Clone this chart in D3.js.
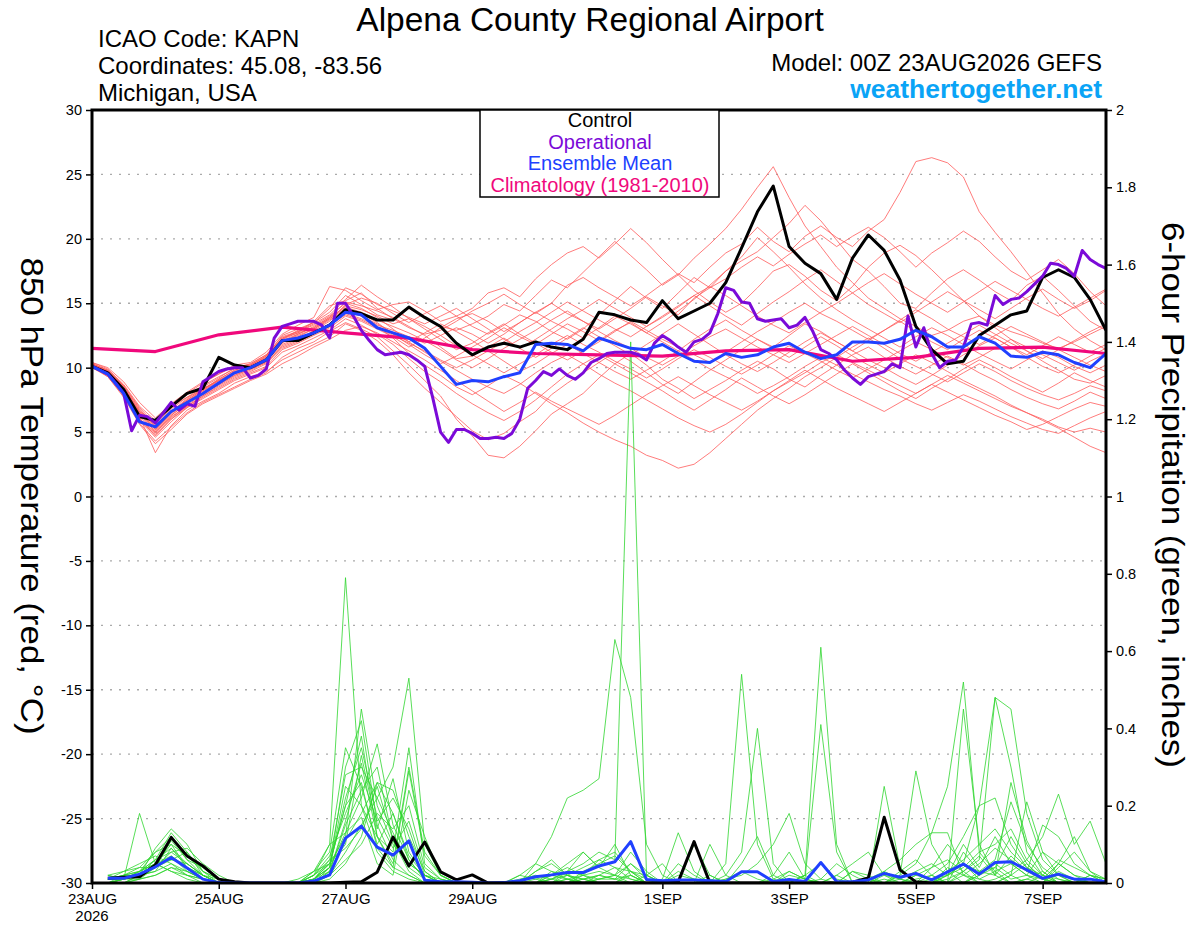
<!DOCTYPE html>
<html>
<head>
<meta charset="utf-8">
<script src="https://cdn.jsdelivr.net/npm/d3@7"></script>
<style>
body { margin:0; background:#fff; }
svg { font-family: "Liberation Sans", Arial, Helvetica, sans-serif; }
</style>
</head>
<body>
<svg width="1200" height="927"></svg>
<script>
// axis ticks and labels
var tempTicks = [30, 25, 20, 15, 10, 5, 0, -5, -10, -15, -20, -25, -30]
var precipTicks = [0, 0.2, 0.4, 0.6, 0.8, 1, 1.2, 1.4, 1.6, 1.8, 2]
var dateTickDays = [0, 2, 4, 6, 9, 11, 13, 15]
var dateTickLabels = ["23AUG", "25AUG", "27AUG", "29AUG", "1SEP", "3SEP", "5SEP", "7SEP"]

// 850 hPa temperature, 6-hourly from 00Z 23AUG (deg C)
var controlTemp = [10.1, 9.6, 8.3, 6.2, 5.9, 7.0, 8.0, 8.4, 10.8, 10.2,
    10.0, 10.6, 12.1, 12.1, 12.7, 13.3, 14.5, 14.2, 13.7, 13.7,
    14.7, 13.9, 13.2, 11.9, 11.0, 11.6, 11.9, 11.6, 12.0, 11.6,
    11.4, 12.2, 14.3, 14.1, 13.7, 13.5, 15.2, 13.8, 14.4, 15.0,
    16.6, 19.3, 22.1, 24.1, 19.4, 18.1, 17.3, 15.3, 18.5, 20.3,
    19.1, 16.8, 13.2, 11.4, 10.3, 10.5, 12.5, 13.3, 14.1, 14.4,
    17.0, 17.6, 17.0, 15.3, 12.9]

var meanTemp = [10.1, 9.5, 8.0, 5.8, 5.4, 6.6, 7.3, 8.0, 8.8, 9.6,
    10.0, 10.6, 12.1, 12.3, 12.7, 13.3, 14.3, 14.1, 13.1, 12.7,
    12.3, 11.5, 10.1, 8.7, 9.0, 8.9, 9.3, 9.6, 11.8, 11.9,
    11.8, 11.3, 12.3, 11.9, 11.5, 11.4, 11.8, 11.1, 10.5, 10.4,
    11.1, 10.8, 11.0, 11.6, 11.9, 11.2, 10.7, 11.0, 12.0, 12.0,
    11.9, 12.2, 12.9, 12.4, 11.6, 11.6, 12.4, 11.9, 10.9, 10.8,
    11.2, 11.0, 10.4, 10.0, 11.1]

// operational run is 3-hourly
var operationalTemp = [10.1, 9.8, 9.5, 8.8, 8.0, 5.1, 6.3, 6.2, 5.7, 6.5,
    7.3, 6.7, 7.2, 7.0, 8.9, 9.3, 9.7, 9.9, 10.0, 10.0,
    9.2, 9.4, 9.9, 12.3, 13.2, 13.4, 13.6, 13.6, 13.6, 13.3,
    12.3, 15.0, 15.0, 14.0, 12.9, 12.1, 11.4, 11.0, 11.1, 11.2,
    11.0, 10.6, 10.1, 7.7, 5.0, 4.2, 5.2, 5.2, 4.9, 4.5,
    4.5, 4.6, 4.5, 4.9, 6.0, 8.4, 9.0, 9.7, 9.4, 9.9,
    9.4, 9.1, 9.6, 10.4, 10.7, 11.1, 11.2, 11.2, 11.2, 11.0,
    10.6, 11.9, 12.5, 12.1, 11.6, 11.2, 12.0, 12.2, 12.7, 14.2,
    16.2, 16.0, 15.1, 15.0, 13.8, 13.6, 13.7, 13.8, 13.1, 13.3,
    13.9, 12.8, 11.4, 11.1, 10.6, 9.8, 9.2, 8.7, 9.3, 9.5,
    9.7, 10.3, 10.0, 14.0, 11.6, 13.1, 11.1, 10.0, 10.5, 10.6,
    11.6, 13.4, 13.5, 13.3, 15.6, 14.9, 15.3, 15.4, 15.9, 16.5,
    17.1, 18.1, 18.0, 17.7, 17.1, 19.1, 18.4, 18.0, 17.7]

// daily climatology 1981-2010
var climoTemp = [11.5, 11.25, 12.55, 13.15, 12.7, 12.3, 11.4, 11.1, 11.0,
    10.9, 11.3, 11.4, 10.5, 10.8, 11.5, 11.6, 11.1]

var memberTemp = [
 [10.3,9.8,8.6,6.9, 5.6,6.9,7.9,8.6, 9.3,9.9,10.3,11.0, 12.2,12.9,13.5,14.3, 15.6,14.9,14.1,13.7, 14.6,13.9,13.2,12.9, 13.4,14.0,14.9,14.4, 15.6,16.8,16.2,17.4, 18.6,19.8,18.7,17.6, 16.4,17.2,18.5,19.6, 20.8,22.3,24.0,25.6, 23.2,21.0,19.4,17.8, 16.6,15.4,14.6,13.8, 13.2,12.5,12.9,13.6, 14.0,13.3,12.8,12.4, 11.9,11.5,12.0,12.6, 13.2],
 [10.2,9.7,8.3,6.6, 5.4,6.6,7.6,8.4, 9.0,9.6,10.1,10.8, 12.3,12.7,13.6,14.8, 15.2,15.8,14.6,13.8, 13.1,12.6,12.9,13.6, 14.4,15.0,15.7,14.9, 14.2,15.0,16.4,17.0, 16.2,15.5,14.8,15.6, 16.5,17.3,16.6,17.8, 18.9,19.6,20.9,19.8, 19.0,20.2,21.0,20.1, 19.4,20.6,21.5,23.6, 26.0,26.3,25.9,24.8, 22.1,20.5,19.0,17.4, 15.8,14.2,13.0,12.1, 11.4],
 [10.4,10.0,8.9,7.3, 6.1,7.2,8.1,8.9, 9.5,10.2,10.4,11.2, 12.6,13.3,13.9,16.3, 16.0,15.2,14.5,14.9, 15.1,14.4,13.6,14.0, 13.2,12.6,13.3,14.1, 13.6,12.8,12.2,13.0, 14.1,15.2,16.3,15.4, 14.6,15.8,17.0,16.2, 17.5,18.3,19.0,20.1, 21.2,22.6,21.4,19.9, 18.4,17.5,16.3,15.0, 14.6,15.8,16.9,17.6, 16.8,15.9,15.2,16.4, 17.1,16.0,14.8,13.6, 12.9],
 [10.1,9.5,8.0,6.0, 4.9,6.2,7.0,7.8, 8.6,9.3,9.8,10.4, 11.6,12.1,12.9,13.6, 14.9,15.4,15.0,14.2, 13.5,14.2,14.8,14.0, 14.6,15.8,16.2,15.5, 16.9,18.0,18.9,19.4, 18.5,19.6,20.8,19.7, 18.4,17.2,16.0,15.1, 14.3,15.0,16.2,17.5, 18.0,17.1,16.0,15.2, 16.3,17.8,18.9,19.5, 18.7,17.6,16.4,15.2, 14.0,13.1,12.2,11.3, 10.5,9.8,9.1,8.8, 9.4],
 [10.0,9.4,7.9,5.9, 4.6,5.8,6.9,7.7, 8.4,9.1,9.6,10.1, 11.4,11.9,12.5,13.1, 14.0,13.6,13.0,12.4, 11.6,12.3,13.1,13.8, 14.2,13.6,12.8,13.5, 14.3,15.0,14.2,13.6, 13.0,13.8,14.6,15.5, 14.8,14.1,15.4,16.2, 16.9,17.8,18.6,17.9, 18.8,19.6,20.3,19.4, 20.2,20.9,20.1,19.0, 17.8,18.9,19.7,20.6, 19.8,18.6,17.5,16.8, 17.6,18.4,17.3,15.9, 14.8],
 [10.3,9.7,8.4,6.5, 5.3,6.5,7.4,8.2, 8.9,9.7,10.0,10.6, 12.0,12.5,13.0,13.8, 14.6,14.2,13.5,12.6, 11.8,11.0,10.3,10.9, 11.6,12.3,13.1,12.4, 11.8,12.6,13.4,12.8, 12.1,12.9,13.5,12.7, 12.0,11.3,12.2,13.0, 13.7,12.9,12.2,11.6, 12.5,13.4,12.8,12.0, 11.3,12.1,12.9,13.6, 12.8,12.0,11.4,12.2, 12.9,12.3,11.6,11.0, 11.7,12.4,11.8,11.2, 11.8],
 [10.2,9.5,8.1,6.2, 3.4,5.5,6.7,7.4, 8.0,8.8,9.3,9.7, 10.6,11.2,11.8,12.4, 13.4,12.9,12.1,11.0, 9.6,8.4,7.3,6.2, 5.1,4.4,4.9,5.8, 6.6,7.9,8.8,9.6, 10.4,11.2,10.5,9.6, 8.7,8.0,8.9,9.8, 10.6,11.4,12.2,11.5, 10.8,11.6,12.4,11.7, 10.9,10.2,9.6,10.3, 11.0,10.4,9.7,9.0, 8.4,7.8,7.1,6.5, 6.0,5.4,5.0,5.3, 5.0],
 [10.1,9.3,7.8,5.7, 4.3,5.4,6.5,7.3, 7.9,8.5,9.1,9.6, 10.8,11.5,12.0,12.8, 13.5,13.0,12.4,11.3, 10.2,9.0,7.8,6.0, 4.7,3.2,3.0,3.9, 5.1,6.4,7.2,8.0, 9.2,10.3,11.1,10.2, 9.1,8.4,7.6,8.3, 9.0,9.8,10.5,9.9, 9.1,8.5,9.4,10.2, 11.0,11.6,10.8,10.1, 9.5,10.2,10.9,10.3, 9.6,9.0,8.3,7.7, 7.2,6.8,7.4,8.1, 7.6],
 [10.2,9.6,8.2,6.4, 5.0,6.1,7.1,7.9, 8.7,9.4,9.9,10.4, 11.7,12.2,12.7,13.4, 14.2,13.8,13.2,12.3, 11.1,10.2,9.4,8.5, 7.9,8.6,9.4,8.8, 8.0,7.2,6.5,5.7, 5.0,4.4,3.9,3.2, 2.8,2.2,2.5,3.4, 4.5,5.6,6.7,7.6, 8.4,9.3,10.0,10.8, 11.6,12.3,11.5,10.7, 10.1,9.5,8.9,9.6, 10.3,9.7,9.0,8.4, 7.9,7.5,8.0,8.6, 8.2],
 [10.3,9.8,8.5,6.7, 5.5,6.8,7.7,8.5, 9.2,10.0,10.3,11.0, 12.4,12.8,13.3,14.0, 15.0,14.6,13.9,13.0, 12.0,11.2,10.5,9.8, 9.1,8.5,8.0,8.7, 9.6,10.4,11.0,10.3, 9.5,8.8,8.2,7.5, 6.8,6.1,5.5,5.0, 5.6,6.4,7.3,8.2, 8.9,9.6,10.4,11.0, 10.4,9.8,9.2,8.6, 8.0,8.7,9.4,8.8, 8.2,7.6,7.0,6.5, 5.9,5.3,4.6,3.9, 3.4],
 [10.1,9.4,7.9,6.0, 5.0,6.3,7.2,8.1, 8.8,9.5,10.0,10.5, 11.9,12.6,13.1,13.9, 15.1,14.8,14.4,13.9, 13.2,12.5,11.6,10.7, 10.9,11.6,12.3,11.5, 10.8,11.5,12.3,13.1, 12.4,11.7,11.0,11.8, 12.6,13.4,12.6,11.8, 11.0,10.3,9.7,10.4, 11.2,12.0,12.7,12.0, 11.3,10.6,10.0,9.3, 8.7,9.4,10.2,11.0, 11.7,12.3,11.6,10.8, 10.1,9.6,10.2,10.9, 11.5],
 [10.4,9.9,8.7,7.0, 5.9,7.1,8.0,8.8, 9.5,10.1,10.2,10.9, 12.5,13.0,13.5,14.6, 16.2,15.7,14.9,14.4, 13.9,13.4,14.0,14.6, 13.8,13.0,12.2,11.5, 12.2,13.0,13.8,14.5, 15.3,14.6,13.9,13.2, 13.9,14.7,15.6,14.8, 14.0,13.3,14.2,15.1, 15.9,16.8,17.6,16.7, 15.8,14.9,14.2,13.5, 14.3,15.1,15.9,15.2, 14.5,13.8,14.6,15.4, 16.1,15.3,14.6,15.2, 16.0],
 [10.2,9.6,8.1,6.1, 4.7,6.0,6.9,7.6, 8.3,9.0,9.5,10.0, 11.2,11.7,12.3,12.9, 13.8,13.3,12.6,11.8, 10.7,9.7,8.9,8.0, 7.2,6.5,5.9,6.6, 7.5,8.5,9.5,10.3, 11.0,10.3,9.6,8.9, 8.2,7.4,6.7,7.5, 8.3,9.2,8.5,7.8, 7.2,7.9,8.7,9.5, 10.3,9.6,8.9,8.2, 7.6,8.4,9.1,9.9, 10.6,10.0,9.3,8.7, 8.1,8.8,9.6,9.0, 8.5],
 [10.1,9.5,8.0,6.2, 5.1,6.3,7.3,8.0, 8.7,9.4,9.9,10.6, 12.0,12.4,13.0,13.7, 14.5,14.0,13.3,12.9, 12.4,11.9,12.5,13.1, 12.6,11.9,12.6,13.5, 14.3,13.6,13.0,12.3, 13.1,14.0,13.4,12.7, 13.5,14.4,15.3,16.4, 17.5,18.6,20.1,19.0, 17.8,16.5,15.4,14.5, 13.7,13.0,12.3,11.6, 12.4,13.1,12.5,11.8, 11.1,10.5,9.9,10.6, 11.3,10.8,10.1,9.6, 10.2],
 [10.3,9.7,8.5,6.6, 5.8,7.0,7.7,8.3, 9.1,9.8,10.2,10.8, 12.3,12.8,13.4,14.1, 15.3,16.4,15.5,14.7, 13.8,13.0,12.2,11.4, 11.9,12.7,13.4,12.6, 11.9,11.2,10.6,11.3, 12.0,12.8,13.6,12.9, 12.2,11.6,11.0,10.4, 11.2,12.0,12.8,13.5, 14.3,15.0,14.2,13.6, 12.9,12.2,12.9,13.7, 14.5,13.8,13.0,12.4, 11.8,12.5,13.2,12.6, 12.0,11.4,10.8,10.2, 9.7],
 [10.0,9.3,7.7,5.6, 4.1,5.2,6.4,7.2, 7.8,8.4,9.0,9.5, 10.3,10.9,11.6,12.2, 12.9,13.2,12.7,12.0, 11.3,10.6,9.8,9.0, 8.2,7.4,6.6,7.3, 8.1,7.4,6.8,6.2, 5.6,6.3,7.1,7.9, 8.6,9.3,8.6,7.9, 7.3,6.7,7.4,8.2, 9.0,9.8,9.1,8.4, 7.8,7.2,6.6,7.3, 8.0,8.7,8.1,7.5, 6.9,6.3,5.8,5.2, 5.6,6.2,6.8,7.3, 7.0],
 [10.2,9.7,8.3,6.5, 5.2,6.4,7.4,8.2, 9.0,9.7,10.1,10.7, 12.1,12.6,13.2,13.9, 14.7,14.3,13.7,13.2, 12.7,12.1,11.4,10.6, 10.0,10.7,11.5,12.2, 12.9,13.7,14.4,13.6, 12.8,12.1,11.5,10.8, 10.2,10.9,11.7,12.4, 13.0,12.3,11.6,11.0, 10.4,11.1,11.8,12.5, 13.2,12.5,11.8,11.1, 10.5,11.2,11.9,12.6, 13.3,12.6,11.9,11.3, 10.7,11.4,12.1,12.8, 13.4],
 [10.3,9.8,8.6,6.8, 5.4,6.6,7.5,8.3, 9.0,9.6,10.0,10.6, 11.8,12.3,12.8,13.4, 14.4,14.0,13.4,12.7, 12.0,12.7,13.4,12.8, 12.1,11.3,10.5,9.7, 10.3,11.1,11.8,11.1, 10.4,9.7,9.1,9.8, 10.5,11.3,10.6,9.9, 9.3,8.7,8.0,8.6, 9.3,10.1,10.8,10.2, 9.5,8.9,8.3,7.8, 7.2,6.7,7.3,7.9, 7.4,6.8,6.2,5.7, 5.2,4.9,5.5,6.1, 6.6],
 [10.1,9.4,7.9,5.9, 4.8,6.0,7.0,7.8, 8.5,9.2,9.7,10.3, 11.5,12.0,12.6,13.3, 14.1,13.7,13.1,12.5, 11.9,11.3,10.6,10.0, 10.6,11.3,12.0,12.8, 13.5,14.3,15.1,14.4, 13.7,13.0,12.4,13.2, 14.0,14.8,15.6,16.3, 15.6,14.8,14.0,13.3, 12.7,13.5,14.3,15.0, 15.8,16.6,17.3,16.5, 15.7,15.0,14.3,15.1, 15.9,16.7,16.0,15.3, 14.6,14.0,14.7,15.4, 16.1],
 [10.2,9.6,8.3,6.4, 5.2,6.5,7.5,8.3, 9.1,9.8,10.2,10.9, 12.2,12.7,13.1,13.8, 14.8,14.5,14.0,13.4, 13.8,13.2,12.5,11.7, 11.0,10.3,9.6,10.3, 11.0,11.8,12.5,11.8, 11.2,10.5,9.9,9.2, 9.9,10.7,11.4,10.8, 10.1,9.5,10.2,11.0, 11.7,11.1,10.5,9.8, 9.2,9.9,10.6,11.3, 12.0,11.4,10.8,10.2, 10.8,11.5,12.2,11.6, 11.0,10.4,9.8,10.5, 11.1]
]

// 6-hour precipitation, ending 06Z 23AUG .. 00Z 8SEP (inches)
var controlPrecip = [0.012, 0.015, 0.016, 0.047, 0.118, 0.070, 0.044, 0.010,
    0.003, 0, 0, 0, 0, 0, 0, 0.002,
    0.003, 0.028, 0.119, 0.044, 0.106, 0.029, 0.008, 0.021,
    0, 0, 0, 0, 0, 0, 0, 0,
    0, 0, 0, 0, 0.003, 0.107, 0, 0,
    0, 0, 0, 0, 0, 0, 0, 0.002,
    0.013, 0.170, 0.034, 0.003, 0, 0, 0, 0,
    0, 0, 0, 0, 0, 0, 0, 0]

var meanPrecip = [0.012, 0.012, 0.023, 0.042, 0.066, 0.039, 0.010, 0.001,
    0, 0, 0, 0, 0, 0.005, 0.021, 0.116,
    0.147, 0.093, 0.072, 0.109, 0.007, 0.003, 0.003, 0.002,
    0, 0.001, 0.006, 0.016, 0.021, 0.027, 0.027, 0.044,
    0.055, 0.107, 0.009, 0.006, 0.008, 0.008, 0.006, 0.004,
    0.029, 0.029, 0.004, 0.009, 0.004, 0.053, 0.004, 0.003,
    0.008, 0.025, 0.015, 0.025, 0.008, 0.029, 0.049, 0.023,
    0.053, 0.055, 0.034, 0.012, 0.023, 0.010, 0.010, 0.003]

var memberPrecip = [
 [0.01,0.02,0.04,0.08,0.12,0.06,0.02,0, 0,0,0,0,0,0.02,0.10,0.79, 0.20,0.08,0.03,0.01,0,0,0,0, 0,0,0,0.03,0.06,0.02,0,0.01, 0.02,0.05,0.01,0,0,0,0,0, 0,0,0.02,0.08,0.01,0,0,0, 0,0.03,0.01,0,0,0.02,0.05,0.01, 0,0,0.01,0.03,0,0,0.02,0],
 [0,0.01,0.02,0.05,0.07,0.03,0.01,0, 0,0,0,0,0,0,0.04,0.30, 0.42,0.15,0.06,0.02,0,0,0,0, 0,0,0.01,0.02,0.01,0.03,0.05,0.08, 0.06,1.40,0.02,0,0,0,0.01,0, 0,0,0,0,0.02,0.05,0.01,0, 0,0,0.02,0.05,0.13,0.13,0.02,0, 0.01,0.03,0.06,0.02,0,0.01,0,0],
 [0.02,0.01,0.18,0.05,0.03,0.01,0,0, 0,0,0,0,0,0.01,0.05,0.12, 0.45,0.20,0.10,0.05,0.02,0,0,0, 0,0,0,0.05,0.12,0.22,0.24,0.27, 0.63,0.48,0.10,0.02,0,0,0,0, 0,0,0,0,0,0,0.02,0.05, 0.08,0.02,0,0,0,0,0.03,0.06, 0.48,0.30,0.08,0.02,0,0,0,0],
 [0,0.01,0.02,0.03,0.05,0.02,0.01,0, 0,0,0,0,0,0.03,0.08,0.35, 0.25,0.10,0.18,0.06,0.01,0,0,0, 0,0,0,0,0.01,0.02,0.01,0, 0,0,0,0,0.02,0.01,0,0.05, 0.54,0.10,0.01,0,0,0,0,0, 0,0,0.02,0.29,0.10,0.03,0,0.02, 0.05,0.02,0,0,0.03,0.01,0,0],
 [0.01,0.02,0.03,0.06,0.09,0.05,0.02,0.01, 0,0,0,0,0,0.01,0.06,0.28, 0.30,0.22,0.13,0.05,0.02,0,0,0, 0,0,0.02,0.01,0,0,0.03,0.05, 0.07,0.03,0,0,0,0,0,0.02, 0.08,0.40,0.05,0,0.02,0.61,0.10,0, 0,0.01,0,0,0.02,0.05,0.12,0.20, 0.22,0.10,0.04,0.01,0,0,0,0],
 [0,0,0.02,0.04,0.07,0.04,0.02,0, 0,0,0,0,0,0,0.02,0.08, 0.15,0.22,0.30,0.53,0.10,0.02,0,0, 0,0,0,0,0.02,0.04,0.02,0, 0,0.03,0.02,0,0,0,0,0, 0,0,0,0.03,0.01,0.41,0.08,0, 0,0,0,0.02,0.01,0,0.45,0.10, 0.02,0,0.01,0,0.05,0.12,0.03,0],
 [0.01,0.01,0.03,0.08,0.10,0.07,0.03,0.01, 0,0,0,0,0,0.02,0.05,0.20, 0.38,0.12,0.08,0.35,0.05,0.01,0,0, 0,0,0,0,0,0.01,0.02,0.03, 0.02,0,0,0.01,0.13,0.03,0,0, 0,0,0,0,0,0,0.02,0, 0.01,0.03,0.06,0.10,0.13,0.25,0.52,0.08, 0.03,0,0,0.02,0.01,0,0,0],
 [0,0.02,0.03,0.05,0.06,0.08,0.03,0.01, 0,0,0,0,0,0.01,0.03,0.15, 0.24,0.30,0.11,0.04,0.01,0,0,0, 0,0,0,0.03,0.05,0.02,0.01,0, 0,0,0.02,0.05,0,0,0.10,0.02, 0,0,0,0,0,0,0,0.03, 0.02,0,0,0,0.04,0.10,0.05,0.20, 0.48,0.45,0.18,0.06,0.02,0,0.01,0],
 [0,0,0.01,0.04,0.11,0.06,0.04,0.01, 0,0,0,0,0,0,0.03,0.11, 0.18,0.26,0.24,0.12,0.03,0,0,0, 0,0,0,0,0,0.03,0.08,0.04, 0.10,0.02,0,0,0,0,0,0, 0.05,0.12,0.02,0,0,0,0,0, 0,0,0,0,0,0.02,0.04,0.08, 0.10,0.14,0.06,0.12,0.23,0.10,0.16,0.05],
 [0.01,0.01,0.02,0.03,0.09,0.04,0.01,0, 0,0,0,0,0,0.02,0.07,0.18, 0.28,0.16,0.22,0.14,0.02,0,0,0, 0,0,0,0,0.01,0,0.02,0.06, 0.04,0.01,0,0,0,0,0,0.01, 0.02,0.05,0.10,0.18,0.05,0.01,0,0, 0,0.25,0.04,0,0,0.01,0.03,0, 0,0.02,0.21,0.08,0.02,0,0,0],
 [0,0.01,0.02,0.06,0.13,0.08,0.02,0, 0,0,0,0,0,0.01,0.04,0.25, 0.20,0.12,0.05,0.30,0.08,0.02,0,0, 0,0,0,0,0,0,0.01,0.02, 0.01,0.05,0.02,0,0,0.10,0.02,0, 0,0,0,0,0.02,0,0,0, 0,0,0.03,0.06,0.02,0,0,0.03, 0.06,0.21,0.10,0.04,0.01,0,0,0],
 [0.02,0.03,0.04,0.04,0.08,0.09,0.05,0.02, 0,0,0,0,0,0,0.01,0.05, 0.12,0.26,0.18,0.07,0.02,0.01,0,0, 0,0,0.02,0.05,0.03,0.01,0,0, 0,0.02,0,0,0,0,0,0, 0,0,0,0,0,0.01,0.05,0.02, 0,0,0,0.01,0.02,0,0.02,0.05, 0.09,0.06,0.03,0.15,0.12,0.05,0.02,0.01],
 [0,0.01,0.01,0.02,0.04,0.03,0.01,0, 0,0,0,0,0,0.01,0.05,0.20, 0.26,0.09,0.04,0.29,0.07,0.02,0,0, 0,0,0,0,0.02,0.05,0.08,0.04, 0.02,0.08,0.03,0,0,0,0,0, 0,0,0,0,0,0,0,0, 0,0,0.01,0.03,0.05,0.02,0.10,0.04, 0.12,0.05,0.02,0,0.04,0.08,0.03,0.01],
 [0.01,0.03,0.05,0.07,0.05,0.03,0.01,0, 0,0,0,0,0,0,0.02,0.06, 0.10,0.18,0.14,0.20,0.04,0.01,0,0, 0,0,0,0,0,0.02,0.04,0.06, 0.08,0.03,0.01,0,0.05,0.02,0,0, 0,0,0,0,0,0,0,0, 0,0,0,0,0,0.03,0.06,0.10, 0.14,0.08,0.04,0.02,0.06,0.04,0.02,0],
 [0,0,0.02,0.09,0.14,0.10,0.03,0, 0,0,0,0,0,0.03,0.10,0.13, 0.17,0.05,0.02,0.24,0.12,0.02,0,0, 0,0,0,0.01,0.02,0.01,0,0.02, 0.04,0.03,0,0,0,0,0.02,0, 0,0,0,0,0,0,0,0, 0.01,0,0,0,0,0.04,0.02,0.01, 0.03,0.05,0.02,0.01,0.05,0.02,0.01,0],
 [0.01,0.01,0.02,0.04,0.06,0.05,0.02,0, 0,0,0,0,0.01,0.03,0.05,0.10, 0.33,0.14,0.27,0.08,0.02,0,0,0, 0,0,0,0,0,0.01,0,0.01, 0.02,0.01,0,0,0.03,0.01,0,0, 0,0,0,0.01,0,0,0,0.03, 0.01,0,0,0,0,0,0.08,0.03, 0.04,0.12,0.05,0.01,0,0,0.02,0.01],
 [0,0.01,0.03,0.05,0.10,0.04,0.02,0, 0,0,0,0,0,0.01,0.04,0.13, 0.22,0.36,0.15,0.06,0.01,0,0,0, 0,0,0,0,0,0,0.01,0.02, 0.01,0,0,0,0,0,0,0, 0,0,0,0,0,0,0,0, 0,0,0,0.02,0.04,0.06,0.03,0.07, 0.02,0.26,0.11,0.03,0,0,0,0],
 [0.01,0.02,0.02,0.05,0.03,0.02,0,0, 0,0,0,0,0,0,0.03,0.16, 0.31,0.12,0.04,0.02,0,0,0,0, 0,0,0,0,0.01,0.03,0.02,0.01, 0.01,0.02,0,0,0,0,0,0, 0,0,0,0.02,0.01,0,0,0, 0,0,0,0,0,0,0,0.02, 0.04,0.01,0.02,0.08,0.05,0.02,0,0],
 [0,0,0.01,0.02,0.04,0.02,0.01,0, 0,0,0,0,0,0.02,0.06,0.09, 0.14,0.25,0.11,0.03,0,0,0,0, 0,0,0,0,0,0,0,0, 0,0,0,0,0,0,0,0.01, 0.03,0.01,0,0,0,0,0,0, 0,0.02,0.01,0,0,0,0,0, 0,0.02,0.05,0.01,0,0,0,0],
 [0.02,0.01,0.03,0.06,0.08,0.05,0.02,0, 0,0,0,0,0,0.01,0.04,0.22, 0.35,0.17,0.09,0.16,0.03,0,0,0, 0,0,0,0,0.03,0.02,0,0, 0,0,0,0,0,0,0,0, 0,0,0.01,0.03,0.01,0,0,0, 0,0,0,0,0.01,0.02,0.05,0.03, 0.02,0.07,0.03,0.01,0.02,0.01,0,0]
]

var plot = {left:92, right:1106, top:110, bottom:883}

var svg = d3.select("svg")
svg.append("rect").attr("width",1200).attr("height",927).attr("fill","white")

var xScale = d3.scaleLinear().domain([0,384]).range([plot.left, plot.right])
var tScale = d3.scaleLinear().domain([-30,30]).range([plot.bottom, plot.top])
var pScale = d3.scaleLinear().domain([0,2]).range([plot.bottom, plot.top])

// turn a value list into points, step = hours between values
var toPoints = function(values, step, start)
{
    return values.map(function(v,i){ return {h:start + i*step, v:v} })
}

svg.append("clipPath").attr("id","plotClip")
    .append("rect")
    .attr("x",plot.left).attr("y",plot.top)
    .attr("width",plot.right-plot.left).attr("height",plot.bottom-plot.top)

//dotted grid lines at temperature ticks
svg.append("g")
    .selectAll("line")
    .data(tempTicks.filter(function(t){ return t>-30 && t<30 }))
    .enter()
    .append("line")
    .attr("x1",plot.left).attr("x2",plot.right)
    .attr("y1",function(t){ return tScale(t) })
    .attr("y2",function(t){ return tScale(t) })
    .style("stroke","#aaaaaa")
    .style("stroke-width",1.3)
    .style("stroke-dasharray","2,7")

var tempLine = d3.line().x(function(d){ return xScale(d.h) }).y(function(d){ return tScale(d.v) })
var precipLine = d3.line().x(function(d){ return xScale(d.h) }).y(function(d){ return pScale(d.v) })

var lines = svg.append("g").attr("clip-path","url(#plotClip)")

var drawLine = function(points, lineGen, color, width)
{
    lines.append("path")
        .datum(points)
        .attr("d",lineGen)
        .style("fill","none")
        .style("stroke",color)
        .style("stroke-width",width)
        .style("stroke-linejoin","round")
}

//ensemble members
memberTemp.forEach(function(m){ drawLine(toPoints(m,6,0), tempLine, "#ff5a5a", 0.8) })
memberPrecip.forEach(function(m){ drawLine(toPoints(m,6,6), precipLine, "#2fd62f", 0.8) })

//climatology is daily
drawLine(toPoints(climoTemp,24,0), tempLine, "#f0087c", 3.2)

drawLine(toPoints(controlTemp,6,0), tempLine, "black", 3)
drawLine(toPoints(controlPrecip,6,6), precipLine, "black", 3)
drawLine(toPoints(operationalTemp,3,0), tempLine, "#7b0ad8", 3)
drawLine(toPoints(meanTemp,6,0), tempLine, "#2040ff", 3)
drawLine(toPoints(meanPrecip,6,6), precipLine, "#2040ff", 3)

//axes
var leftAxis = svg.append("g")
    .attr("transform","translate("+plot.left+",0)")
    .call(d3.axisLeft(tScale).tickValues(tempTicks).tickSize(6).tickPadding(4)
        .tickFormat(function(d){ return String(d) }))

var rightAxis = svg.append("g")
    .attr("transform","translate("+plot.right+",0)")
    .call(d3.axisRight(pScale).tickValues(precipTicks).tickSize(6).tickPadding(4)
        .tickFormat(function(d){ return String(+d.toFixed(1)) }))

var bottomAxis = svg.append("g")
    .attr("transform","translate(0,"+plot.bottom+")")
    .call(d3.axisBottom(xScale).tickValues(dateTickDays.map(function(d){ return d*24 }))
        .tickSize(6).tickPadding(4)
        .tickFormat(function(d,i){ return dateTickLabels[i] }))

;[leftAxis, rightAxis, bottomAxis].forEach(function(a)
{
    a.select(".domain").remove()
    a.selectAll("line").style("stroke","black").style("stroke-width",1.5)
    a.selectAll("text").style("font-size","14.5px").style("font-family","Liberation Sans, Arial, sans-serif").attr("fill","black")
})
bottomAxis.selectAll("text").style("font-size","15px")

svg.append("text")
    .attr("x",plot.left).attr("y",921)
    .attr("text-anchor","middle")
    .style("font-size","15px")
    .text("2026")

//frame
svg.append("rect")
    .attr("x",plot.left).attr("y",plot.top)
    .attr("width",plot.right-plot.left).attr("height",plot.bottom-plot.top)
    .style("fill","none").style("stroke","black").style("stroke-width",3)

//legend box
var legend = svg.append("g")
legend.append("rect")
    .attr("x",480).attr("y",plot.top)
    .attr("width",239).attr("height",87)
    .style("fill","white").style("stroke","black").style("stroke-width",1.5)

var legendItems = [
    {name:"Control", color:"black"},
    {name:"Operational", color:"#7b0ad8"},
    {name:"Ensemble Mean", color:"#2040ff"},
    {name:"Climatology (1981-2010)", color:"#f0087c"}
]
legend.selectAll("text.entry")
    .data(legendItems)
    .enter()
    .append("text")
    .attr("class","entry")
    .attr("x",600)
    .attr("y",function(d,i){ return 127 + i*21.7 })
    .attr("text-anchor","middle")
    .style("font-size","20px")
    .attr("fill",function(d){ return d.color })
    .text(function(d){ return d.name })

//titles
svg.append("text").attr("x",590).attr("y",31).attr("text-anchor","middle")
    .style("font-size","33.5px").text("Alpena County Regional Airport")

var info = ["ICAO Code: KAPN", "Coordinates: 45.08, -83.56", "Michigan, USA"]
svg.selectAll("text.info")
    .data(info)
    .enter()
    .append("text")
    .attr("class","info")
    .attr("x",98)
    .attr("y",function(d,i){ return 47 + i*27 })
    .style("font-size","24px")
    .text(function(d){ return d })

svg.append("text").attr("x",1102).attr("y",71).attr("text-anchor","end")
    .style("font-size","24px").text("Model: 00Z 23AUG2026 GEFS")
svg.append("text").attr("x",1102).attr("y",98).attr("text-anchor","end")
    .style("font-size","26.5px").style("font-weight","bold").attr("fill","#0aa4f6")
    .text("weathertogether.net")

svg.append("text")
    .attr("transform","translate(21,496) rotate(90)")
    .attr("text-anchor","middle")
    .style("font-size","32px")
    .attr("textLength",477)
    .attr("lengthAdjust","spacingAndGlyphs")
    .text("850 hPa Temperature (red, °C)")

svg.append("text")
    .attr("transform","translate(1162,495) rotate(90)")
    .attr("text-anchor","middle")
    .style("font-size","31px")
    .attr("textLength",546)
    .attr("lengthAdjust","spacingAndGlyphs")
    .text("6-hour Precipitation (green, inches)")
</script>
</body>
</html>
